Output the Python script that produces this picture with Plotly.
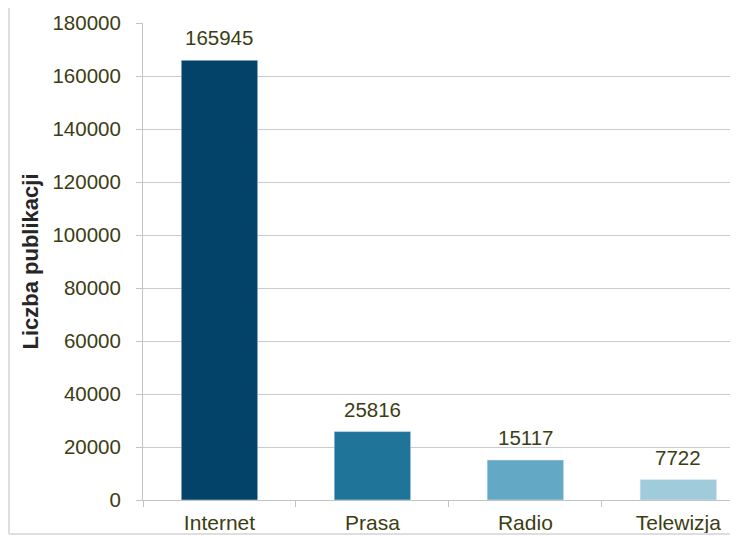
import plotly.graph_objects as go

categories = ["Internet", "Prasa", "Radio", "Telewizja"]
values = [165945, 25816, 15117, 7722]
colors = ["#03436a", "#1f7499", "#63a9c5", "#9fcbdb"]

txt = "#3d3d14"
fnt = "Liberation Sans, Arial"
fig = go.Figure()
fig.add_trace(go.Bar(
    x=categories, y=values, marker_color=colors, width=0.5,
    cliponaxis=False,
))
for c, v in zip(categories, values):
    fig.add_annotation(x=c, y=v, text=str(v), showarrow=False,
                       yanchor="bottom", yshift=9,
                       font=dict(family=fnt, size=20.5, color=txt))

# page body has an 8px margin, so the figure is drawn 8px right/down
W, H = 730, 528
ml, mt, mb = 135, 15, 36
fig.update_layout(
    width=W, height=H,
    margin=dict(l=ml, r=0, t=mt, b=mb),
    plot_bgcolor="white", paper_bgcolor="white",
    showlegend=False,
    font=dict(family=fnt, size=20, color=txt),
)
fig.update_xaxes(
    range=[-0.5, 3.39], showgrid=False, automargin=False,
    showline=True, linecolor="#c0c4c8", linewidth=1,
    ticks="outside", ticklen=6, tickcolor="#c0c4c8",
    tickson="boundaries",
    tickfont=dict(family=fnt, size=21, color=txt),
    ticklabelstandoff=4,
)
fig.update_yaxes(
    range=[0, 180000], dtick=20000, tickformat="d", automargin=False,
    showgrid=True, gridcolor="#c8ccd0", gridwidth=1,
    showline=True, linecolor="#c0c4c8", linewidth=1,
    ticks="outside", ticklen=6, tickcolor="#c0c4c8",
    tickfont=dict(family=fnt, size=20.5, color=txt),
    ticklabelstandoff=11,
    zeroline=False,
    title=dict(text="<b>Liczba publikacji</b>", font=dict(family=fnt, size=22, color="#262626"), standoff=7),
)

# chart-area border (left and bottom visible edges)
pw = W - ml
ph = H - mt - mb
x0 = (1 - ml) / pw
yb = (H - mb - 526) / ph
fig.add_shape(type="line", xref="paper", yref="paper", x0=x0, x1=x0, y0=yb, y1=1 + mt / ph,
              line=dict(color="#dedede", width=2))
fig.add_shape(type="line", xref="paper", yref="paper", x0=x0, x1=1, y0=yb, y1=yb,
              line=dict(color="#dedede", width=2))

fig.write_html("out.html")
